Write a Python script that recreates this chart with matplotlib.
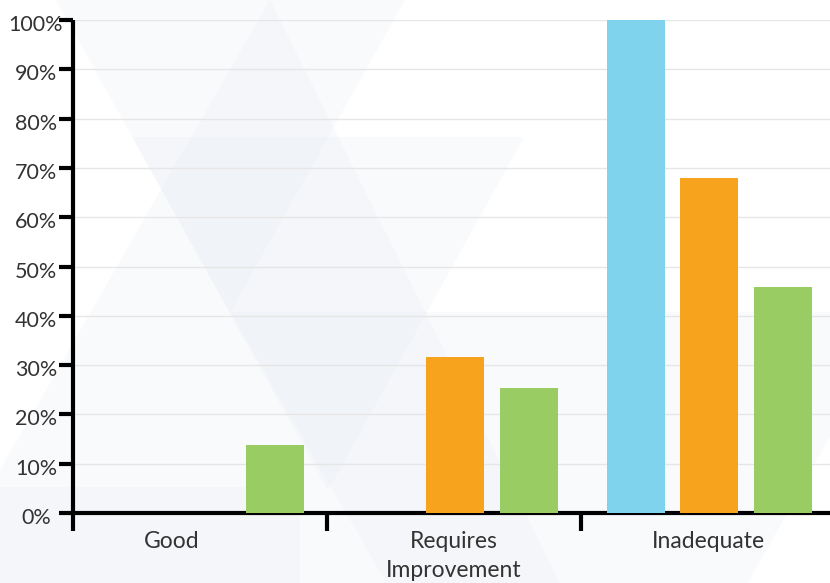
import matplotlib.pyplot as plt
from matplotlib.patches import Polygon
from matplotlib.ticker import FixedLocator
from matplotlib.transforms import ScaledTranslation, blended_transform_factory
import numpy as np

plt.rcParams['font.family'] = ['Lato', 'DejaVu Sans']

categories = ['Good', 'Requires\nImprovement', 'Inadequate']
blue_vals = [0, 0, 100]
orange_vals = [0, 31.6, 68]
green_vals = [13.8, 25.4, 45.8]
y_ticks = [0, 10, 20, 30, 40, 50, 60, 70, 80, 90, 100]
y_labels = ['%d%%' % v for v in y_ticks]

COLORS = {
    'blue': '#7fd3ec',
    'orange': '#f8a31e',
    'green': '#99cc62',
}
TEXT = '#333333'

W, H = 830, 583
fig = plt.figure(figsize=(W / 100, H / 100), dpi=100)

# faint triangular watermark behind the chart (pixel coords, y from top)
bg = fig.add_axes([0, 0, 1, 1], zorder=-1)
bg.set_xlim(0, W)
bg.set_ylim(H, 0)
bg.axis('off')
watermark = [
    [(56, 0), (405, 0), (230, 312)],
    [(132, 137), (524, 137), (328, 490)],
    [(230, 312), (900, 312), (570, 900)],
    [(0, 487), (300, 487), (300, 583), (0, 583)],
    [(0, 470), (270, 0), (560, 583), (0, 583)],
]
for tri in watermark:
    bg.add_patch(Polygon(tri, closed=True, facecolor='#e4e7f0',
                         alpha=0.2, edgecolor='none'))

ax = fig.add_axes([73 / W, 70 / H, 762 / W, 493 / H])
ax.patch.set_alpha(0)

x = np.arange(len(categories))
width = 0.228
ax.bar(x - 0.285, blue_vals, width, color=COLORS['blue'], zorder=3)
ax.bar(x + 0.005, orange_vals, width, color=COLORS['orange'], zorder=3)
ax.bar(x + 0.295, green_vals, width, color=COLORS['green'], zorder=3)

ax.set_xlim(-0.5, 2.5)
ax.set_ylim(0, 100)

# Axes styling
for side in ['top', 'right']:
    ax.spines[side].set_visible(False)
for side in ['left', 'bottom']:
    ax.spines[side].set_linewidth(3)
    ax.spines[side].set_color('black')
    ax.spines[side].set_capstyle('butt')

ax.yaxis.grid(True, color='#e6e6e6', linewidth=1, zorder=0)
ax.set_axisbelow(True)
ax.set_yticks(y_ticks)
ax.tick_params(axis='y', length=10, width=3, color='black', labelleft=False)

# y labels are centred in the left margin
trans = blended_transform_factory(fig.transFigure, ax.transData) + \
    ScaledTranslation(0, -0.03, fig.dpi_scale_trans)
for v, lab in zip(y_ticks, y_labels):
    ax.text(36 / W, v, lab, transform=trans, ha='center', va='center_baseline',
            fontsize=15.5, color=TEXT, clip_on=False)

ax.xaxis.set_minor_locator(FixedLocator([-0.5, 0.5, 1.5, 2.5]))
ax.tick_params(axis='x', which='major', length=0, pad=13,
               labelsize=16.5, labelcolor=TEXT)
ax.tick_params(axis='x', which='minor', length=13, width=3, color='black')
ax.set_xticks(x)
ax.set_xticklabels(categories)

for i, t in enumerate(ax.xaxis.get_major_ticks()):
    t.label1.set_linespacing(1.45)
    t.label1.set_verticalalignment('top')
    if i == 0:
        # "Good" sits a little left of its group centre
        t.label1.set_transform(t.label1.get_transform() +
                               ScaledTranslation(-0.28, 0, fig.dpi_scale_trans))

fig.savefig('out.png', dpi=100)
